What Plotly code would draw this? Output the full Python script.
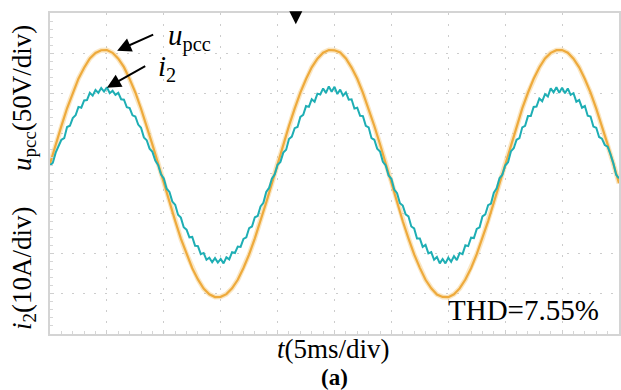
import numpy as np
import plotly.graph_objects as go

# time axis (ms): u_pcc sampled every 0.5 ms, i2 every 0.25 ms
t_u = [0.5 * j for j in range(101)]
t_i = [0.25 * k for k in range(201)]

# u_pcc (V) (50 V/div)
u_pcc = [
    12.2, 36.5, 59.0, 81.3, 100.4, 118.2, 131.8, 143.5, 150.2, 153.6, 153.8, 150.4, 143.0, 132.5, 117.6, 101.0, 80.7, 59.6, 36.0, 12.5,
    -12.0, -36.4, -59.1, -81.2, -100.5, -118.0, -132.0, -143.4, -150.5, -154.0, -153.7, -150.3, -143.1, -132.4, -117.7, -100.9, -80.8, -59.4, -36.1, -12.3,
    12.4, 36.3, 59.4, 80.9, 100.8, 117.8, 132.3, 143.1, 150.6, 153.9, 153.5, 150.8, 143.3, 132.0, 118.1, 100.5, 81.1, 59.2, 36.4, 12.1,
    -12.2, -36.0, -59.5, -80.8, -100.9, -117.6, -132.4, -143.0, -150.8, -153.8, -154.1, -150.5, -143.2, -132.1, -118.0, -100.6, -81.0, -59.3, -36.2, -12.4,
    12.0, 36.6, 59.2, 81.1, 100.6, 118.0, 132.1, 143.4, 150.3, 153.7, 153.9, 150.5, 143.1, 132.3, 117.8, 100.8, 80.9, 59.5, 36.3, 12.3, -12.1,
]

# i2 (A) (10 A/div)
i_2 = [
    2.0, 2.7, 5.2, 6.6, 8.4, 8.8, 11.6, 11.9, 13.8, 14.5, 16.6, 16.4, 18.2, 18.3, 20.1, 19.4, 20.8, 20.1, 21.3, 20.4,
    21.5, 20.0, 20.6, 19.6, 20.1, 18.5, 18.4, 16.5, 16.3, 14.5, 14.2, 12.2, 11.4, 9.0, 8.3, 6.2, 5.4, 3.2, 2.1, -0.2,
    -1.2, -3.8, -4.6, -7.0, -7.8, -10.3, -11.0, -13.4, -14.0, -15.9, -15.8, -18.0, -18.1, -20.1, -19.8, -21.5, -21.0, -22.1, -21.1, -22.2,
    -21.3, -22.4, -20.9, -21.4, -19.6, -19.8, -18.2, -18.3, -16.3, -15.9, -13.6, -13.2, -10.9, -10.6, -8.2, -7.3, -4.6, -3.6, -1.3, -0.2,
    2.2, 2.9, 5.2, 5.9, 8.6, 9.2, 11.3, 11.6, 14.1, 14.6, 16.8, 16.6, 18.5, 17.9, 19.9, 19.7, 21.2, 20.1, 21.7, 20.4,
    21.6, 19.8, 20.9, 19.4, 20.2, 18.4, 18.5, 16.2, 16.4, 14.4, 14.3, 11.9, 11.5, 8.8, 8.4, 6.2, 5.5, 2.9, 2.0, -0.5,
    -1.3, -4.0, -4.9, -7.4, -8.0, -10.2, -10.7, -13.2, -13.7, -16.2, -16.2, -18.3, -17.8, -19.9, -19.6, -21.5, -20.8, -22.4, -21.3, -22.4,
    -21.0, -22.0, -20.6, -21.6, -19.8, -20.1, -17.9, -18.1, -16.0, -16.1, -13.8, -13.4, -10.7, -10.2, -7.9, -7.5, -4.8, -3.7, -1.2, -0.3,
    2.0, 2.8, 5.5, 6.3, 8.4, 8.8, 11.5, 11.9, 14.3, 14.3, 16.6, 16.7, 18.7, 18.0, 19.8, 19.2, 21.2, 20.2, 21.5, 20.1,
    21.4, 20.0, 21.2, 19.6, 20.0, 17.9, 18.3, 16.4, 16.8, 14.4, 14.2, 11.7, 11.4, 9.1, 8.7, 7.1, 6.7, 4.8, 2.6, -0.3, -1.2,
]

X_RANGE = [0, 50]        # 10 div x 5 ms
U_RANGE = [-200, 200]    # 8 div x 50 V
I_RANGE = [-40, 40]      # 8 div x 10 A

ORANGE = "#eeaa3c"
CYAN = "#1eaeb4"
GRID = "#cccccc"
SERIF = "Liberation Serif"

fig = go.Figure()
fig.add_trace(go.Scatter(x=t_u, y=u_pcc, mode="lines", line=dict(color="rgba(245,200,120,0.45)", width=5),
                         hoverinfo="skip", showlegend=False))
fig.add_trace(go.Scatter(x=t_u, y=u_pcc, mode="lines", line=dict(color=ORANGE, width=2.2), showlegend=False))
fig.add_trace(go.Scatter(x=t_i, y=i_2, mode="lines", line=dict(color=CYAN, width=2.0), yaxis="y2", showlegend=False))

fig.update_layout(
    width=621, height=390,
    margin=dict(l=50, r=0, t=13, b=56),
    paper_bgcolor="white", plot_bgcolor="white",
    xaxis=dict(range=X_RANGE, dtick=5, showticklabels=False, showgrid=True, gridcolor=GRID,
               griddash="2px,9px", gridwidth=1.2, zeroline=False, showline=True, mirror=True,
               linecolor="#d4d4d4", linewidth=1.5, ticks="inside", ticklen=4, tickcolor="#cfcfcf",
               minor=dict(dtick=1, ticks="inside", ticklen=3, tickcolor="#d6d6d6", showgrid=False)),
    yaxis=dict(range=U_RANGE, dtick=50, showticklabels=False, showgrid=True, gridcolor=GRID,
               griddash="2px,9px", gridwidth=1.2, zeroline=False, showline=True, mirror=True,
               linecolor="#d4d4d4", linewidth=1.5, ticks="inside", ticklen=4, tickcolor="#cfcfcf",
               minor=dict(dtick=10, ticks="inside", ticklen=3, tickcolor="#d6d6d6", showgrid=False)),
    yaxis2=dict(range=I_RANGE, overlaying="y", side="left", visible=False),
    font=dict(family=SERIF, color="black"),
)

ann = []
# axis labels
ann.append(dict(text="<i>u</i><sub>pcc</sub>(50V/div)", xref="paper", yref="paper", x=-0.046, y=0.735,
                textangle=-90, showarrow=False, font=dict(size=27, family=SERIF), xanchor="center", yanchor="middle"))
ann.append(dict(text="<i>i</i><sub>2</sub>(10A/div)", xref="paper", yref="paper", x=-0.046, y=0.205,
                textangle=-90, showarrow=False, font=dict(size=27, family=SERIF), xanchor="center", yanchor="middle"))
ann.append(dict(text="<i>t</i>(5ms/div)", xref="paper", yref="paper", x=0.499, y=-0.047,
                showarrow=False, font=dict(size=27, family=SERIF), xanchor="center", yanchor="middle"))
ann.append(dict(text="<b>(a)</b>", xref="paper", yref="paper", x=0.5, y=-0.134,
                showarrow=False, font=dict(size=23, family=SERIF), xanchor="center", yanchor="middle"))
ann.append(dict(text="THD=7.55%", xref="x", yref="paper", x=41.6, y=0.075,
                showarrow=False, font=dict(size=29, family=SERIF), xanchor="center", yanchor="middle"))
# trace labels
ann.append(dict(text="<i>u</i><sub>pcc</sub>", xref="x", yref="y", x=10.2, y=170, xanchor="left", yanchor="middle",
                showarrow=False, font=dict(size=29, family=SERIF)))
ann.append(dict(text="<i>i</i><sub>2</sub>", xref="x", yref="y", x=9.3, y=132, xanchor="left", yanchor="middle",
                showarrow=False, font=dict(size=29, family=SERIF)))
# arrows
ann.append(dict(text="", xref="x", yref="y", x=5.9, y=153, axref="x", ayref="y", ax=9.2, ay=174,
                showarrow=True, arrowhead=2, arrowsize=1.4, arrowwidth=2, arrowcolor="black"))
ann.append(dict(text="", xref="x", yref="y", x=5.0, y=107, axref="x", ayref="y", ax=8.5, ay=135,
                showarrow=True, arrowhead=2, arrowsize=1.4, arrowwidth=2, arrowcolor="black"))
# trigger marker
ann.append(dict(text="", xref="x", yref="y", x=21.6, y=186, axref="x", ayref="y", ax=21.6, ay=200,
                showarrow=True, arrowhead=2, arrowsize=1.3, arrowwidth=2, arrowcolor="black"))
fig.update_layout(annotations=ann)

fig.write_html("out.html", config={"displayModeBar": False},
               post_script="document.body.style.margin='0';document.body.style.overflow='hidden';")
